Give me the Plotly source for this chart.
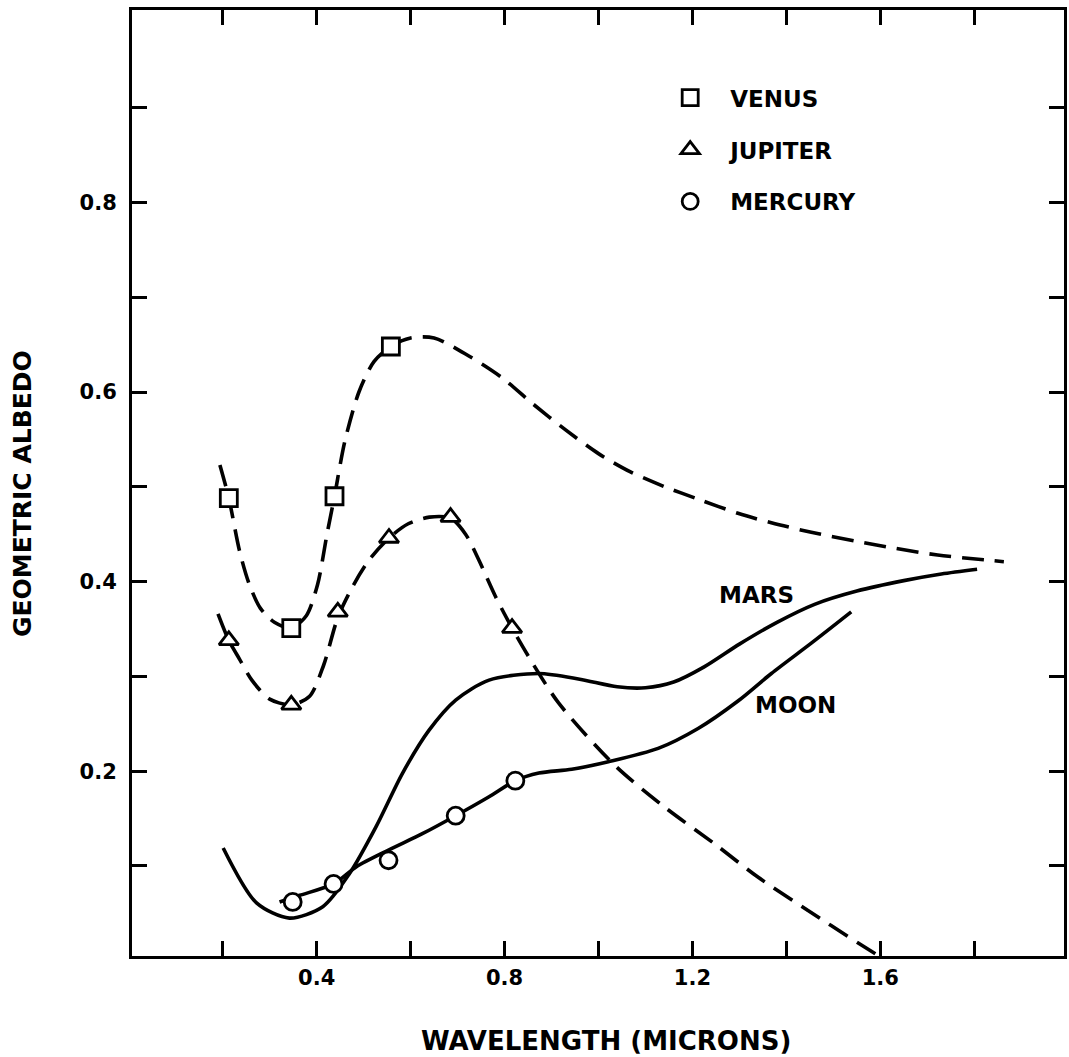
import plotly.graph_objects as go

# ---- observed points ----
venus_x = [0.213, 0.346, 0.438, 0.558]
venus_y = [0.488, 0.351, 0.490, 0.648]
jupiter_x = [0.213, 0.346, 0.445, 0.554, 0.685, 0.816]
jupiter_y = [0.338, 0.270, 0.368, 0.446, 0.468, 0.351]
mercury_x = [0.349, 0.436, 0.553, 0.696, 0.823]
mercury_y = [0.062, 0.081, 0.106, 0.153, 0.190]

# ---- drawn curves ----
venus_curve_x = [0.194, 0.213, 0.236, 0.256, 0.280, 0.310, 0.346, 0.378, 0.402, 0.422, 0.438,
                 0.460, 0.490, 0.522, 0.558, 0.600, 0.650, 0.724, 0.795, 0.859, 0.930, 1.000,
                 1.067, 1.141, 1.212, 1.297, 1.368, 1.453, 1.545, 1.633, 1.722, 1.820, 1.863]
venus_curve_y = [0.523, 0.488, 0.432, 0.398, 0.372, 0.357, 0.351, 0.364, 0.397, 0.450, 0.490,
                 0.548, 0.600, 0.632, 0.648, 0.657, 0.657, 0.638, 0.615, 0.588, 0.560, 0.535,
                 0.516, 0.500, 0.487, 0.472, 0.462, 0.452, 0.443, 0.435, 0.428, 0.423, 0.421]

jupiter_curve_x = [0.190, 0.213, 0.236, 0.262, 0.300, 0.346, 0.385, 0.415, 0.445, 0.478, 0.512,
                   0.554, 0.595, 0.640, 0.685, 0.717, 0.745, 0.781, 0.816, 0.851, 0.915, 1.035,
                   1.141, 1.248, 1.340, 1.446, 1.552, 1.600]
jupiter_curve_y = [0.366, 0.338, 0.318, 0.296, 0.276, 0.270, 0.279, 0.312, 0.362, 0.396, 0.423,
                   0.446, 0.461, 0.468, 0.467, 0.450, 0.423, 0.384, 0.351, 0.321, 0.272, 0.206,
                   0.162, 0.123, 0.088, 0.053, 0.019, 0.004]

mars_x = [0.201, 0.272, 0.342, 0.413, 0.470, 0.526, 0.583, 0.639, 0.696, 0.767, 0.873, 0.960,
          1.040, 1.100, 1.160, 1.225, 1.300, 1.380, 1.460, 1.550, 1.650, 1.730, 1.806]
mars_y = [0.119, 0.061, 0.045, 0.057, 0.092, 0.141, 0.198, 0.243, 0.275, 0.296, 0.303, 0.297,
          0.289, 0.288, 0.294, 0.310, 0.334, 0.357, 0.376, 0.390, 0.401, 0.408, 0.413]

moon_x = [0.321, 0.364, 0.436, 0.484, 0.554, 0.625, 0.696, 0.767, 0.823, 0.873, 0.943, 1.021,
          1.127, 1.212, 1.297, 1.368, 1.453, 1.538]
moon_y = [0.062, 0.069, 0.081, 0.099, 0.117, 0.134, 0.153, 0.173, 0.190, 0.198, 0.202, 0.210,
          0.224, 0.245, 0.274, 0.303, 0.335, 0.368]

x_tickvals = [0.2, 0.4, 0.6, 0.8, 1.0, 1.2, 1.4, 1.6, 1.8]
x_ticktext = ["", "0.4", "", "0.8", "", "1.2", "", "1.6", ""]
y_tickvals = [0.1, 0.2, 0.3, 0.4, 0.5, 0.6, 0.7, 0.8, 0.9]
y_ticktext = ["", "0.2", "", "0.4", "", "0.6", "", "0.8", ""]

FONT = "DejaVu Sans"
dash = "22px,11px"
LW = 3.6

fig = go.Figure()
fig.add_trace(go.Scatter(x=venus_curve_x, y=venus_curve_y, mode="lines",
                         line=dict(color="black", width=LW, dash=dash, shape="spline", smoothing=0.8),
                         showlegend=False, hoverinfo="skip"))
fig.add_trace(go.Scatter(x=jupiter_curve_x, y=jupiter_curve_y, mode="lines",
                         line=dict(color="black", width=LW, dash=dash, shape="spline", smoothing=0.8),
                         showlegend=False, hoverinfo="skip"))
fig.add_trace(go.Scatter(x=mars_x, y=mars_y, mode="lines",
                         line=dict(color="black", width=LW, shape="spline", smoothing=0.8),
                         showlegend=False, hoverinfo="skip"))
fig.add_trace(go.Scatter(x=moon_x, y=moon_y, mode="lines",
                         line=dict(color="black", width=LW, shape="spline", smoothing=0.8),
                         showlegend=False, hoverinfo="skip"))

mk_line = dict(color="black", width=2.8)
fig.add_trace(go.Scatter(x=venus_x, y=venus_y, mode="markers", name="VENUS", legendgroup="v",
                         marker=dict(symbol="square", size=17, color="white", line=mk_line)))
fig.add_trace(go.Scatter(x=jupiter_x, y=jupiter_y, mode="markers", name="JUPITER", legendgroup="j",
                         marker=dict(symbol="triangle-up", size=17, color="white", line=mk_line)))
fig.add_trace(go.Scatter(x=mercury_x, y=mercury_y, mode="markers", name="MERCURY", legendgroup="m",
                         marker=dict(symbol="circle", size=17, color="white", line=mk_line)))

fig.add_annotation(x=1.337, y=0.386, text="MARS", showarrow=False,
                   font=dict(family=FONT, size=23, color="black", weight="bold"))
fig.add_annotation(x=1.419, y=0.270, text="MOON", showarrow=False,
                   font=dict(family=FONT, size=23, color="black", weight="bold"))

fig.add_annotation(xref="paper", yref="paper", x=0.509, y=-0.108, text="WAVELENGTH (MICRONS)",
                   showarrow=False, font=dict(family=FONT, size=26, color="black", weight="bold"))
fig.add_annotation(xref="paper", yref="paper", x=-0.135, y=0.489, text="GEOMETRIC ALBEDO",
                   textangle=-90, showarrow=False,
                   font=dict(family=FONT, size=25, color="black", weight="bold"))

axis_common = dict(showgrid=False, zeroline=False, showline=True, linecolor="black", linewidth=3,
                   mirror="allticks", ticks="inside", ticklen=15, tickwidth=3, tickcolor="black",
                   tickfont=dict(family=FONT, size=21, color="black", weight="bold"))

fig.update_xaxes(range=[0.0069, 1.991], tickmode="array", tickvals=x_tickvals,
                 ticktext=x_ticktext, ticklabelstandoff=1, **axis_common)
fig.update_yaxes(range=[0.005, 1.003], tickmode="array", tickvals=y_tickvals,
                 ticktext=y_ticktext, ticklabelstandoff=8, **axis_common)

fig.update_layout(
    width=1069, height=1057,
    margin=dict(l=132, r=2, t=10, b=101),
    paper_bgcolor="white", plot_bgcolor="white",
    legend=dict(x=0.556, y=0.93, xanchor="left", yanchor="top", tracegroupgap=19,
                bgcolor="rgba(0,0,0,0)", itemwidth=70,
                font=dict(family=FONT, size=23, color="black", weight="bold")),
)

fig.write_html("out.html")
